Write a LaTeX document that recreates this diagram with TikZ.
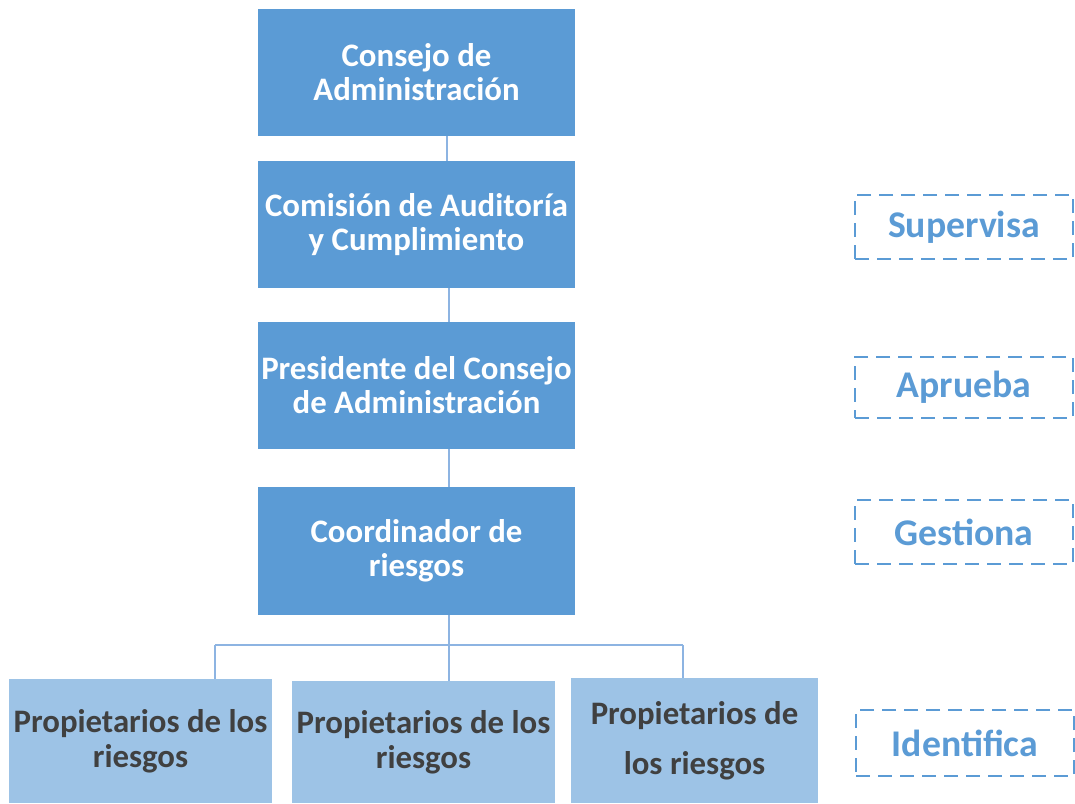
\documentclass[tikz,border=0pt]{standalone}
\usepackage{fontspec}
\setmainfont{Carlito}
\definecolor{dark}{HTML}{5B9BD5}
\definecolor{light}{HTML}{9DC3E6}
\definecolor{txt}{HTML}{404040}
\definecolor{conn}{HTML}{8DB4E2}
\begin{document}
\begin{tikzpicture}[x=1pt,y=-1pt,
  topbox/.style={fill=dark,draw=none,inner sep=0pt,align=center,text=white,font=\bfseries\fontsize{32.8}{34}\selectfont},
  botbox/.style={fill=light,draw=none,inner sep=0pt,align=center,text=txt,font=\bfseries\fontsize{32.8}{35}\selectfont},
  actbox/.style={draw=dark,line width=2pt,dash pattern=on 14pt off 8pt,inner sep=0pt,text=dark,font=\bfseries\fontsize{37.7}{40}\selectfont},
  conline/.style={draw=conn,line width=1.3pt}]
\useasboundingbox (0,0) rectangle (1075,803);
\node[topbox,minimum width=317pt,minimum height=127pt] (b1) at (416.5,72.5) {Consejo de\\Administración};
\node[topbox,minimum width=317pt,minimum height=127pt] (b2) at (416.5,224.5) {Comisión de Auditoría\\y Cumplimiento};
\node[topbox,minimum width=317pt,minimum height=127pt] (b3) at (416.5,385.5) {Presidente del Consejo\\de Administración};
\node[topbox,minimum width=317pt,minimum height=128pt] (b4) at (416.5,551) {Coordinador de\\riesgos};
\node[botbox,minimum width=263pt,minimum height=124pt] (p1) at (140.5,741) {Propietarios de los\\riesgos};
\node[botbox,minimum width=263pt,minimum height=122pt] (p2) at (423.5,742) {Propietarios de los\\riesgos};
\node[botbox,minimum width=247pt,minimum height=125pt,font=\bfseries\fontsize{32.8}{50}\selectfont] (p3) at (694.5,740.5) {Propietarios de\\los riesgos};
\node[actbox,minimum width=218pt,minimum height=64pt] (a1) at (964,227) {Supervisa};
\node[actbox,minimum width=218pt,minimum height=61pt] (a2) at (964,387.5) {Aprueba};
\node[actbox,minimum width=218pt,minimum height=64pt] (a3) at (964,532) {Gestiona};
\node[actbox,minimum width=218pt,minimum height=66pt] (a4) at (965,743) {Identifica};
\coordinate (j) at (449,645);
\coordinate (jl) at (215,645);
\coordinate (jr) at (683,645);
\draw[conline] (b1.south -| 447,0) -- (b2.north -| 447,0);
\draw[conline] (b2.south -| 449,0) -- (b3.north -| 449,0);
\draw[conline] (b3.south -| 449,0) -- (b4.north -| 449,0);
\draw[conline] (b4.south -| j) -- (j);
\draw[conline] (jl) -- (jr);
\draw[conline] (jl) -- (jl |- p1.north);
\draw[conline] (j) -- (j |- p2.north);
\draw[conline] (jr) -- (jr |- p3.north);
\end{tikzpicture}
\end{document}
